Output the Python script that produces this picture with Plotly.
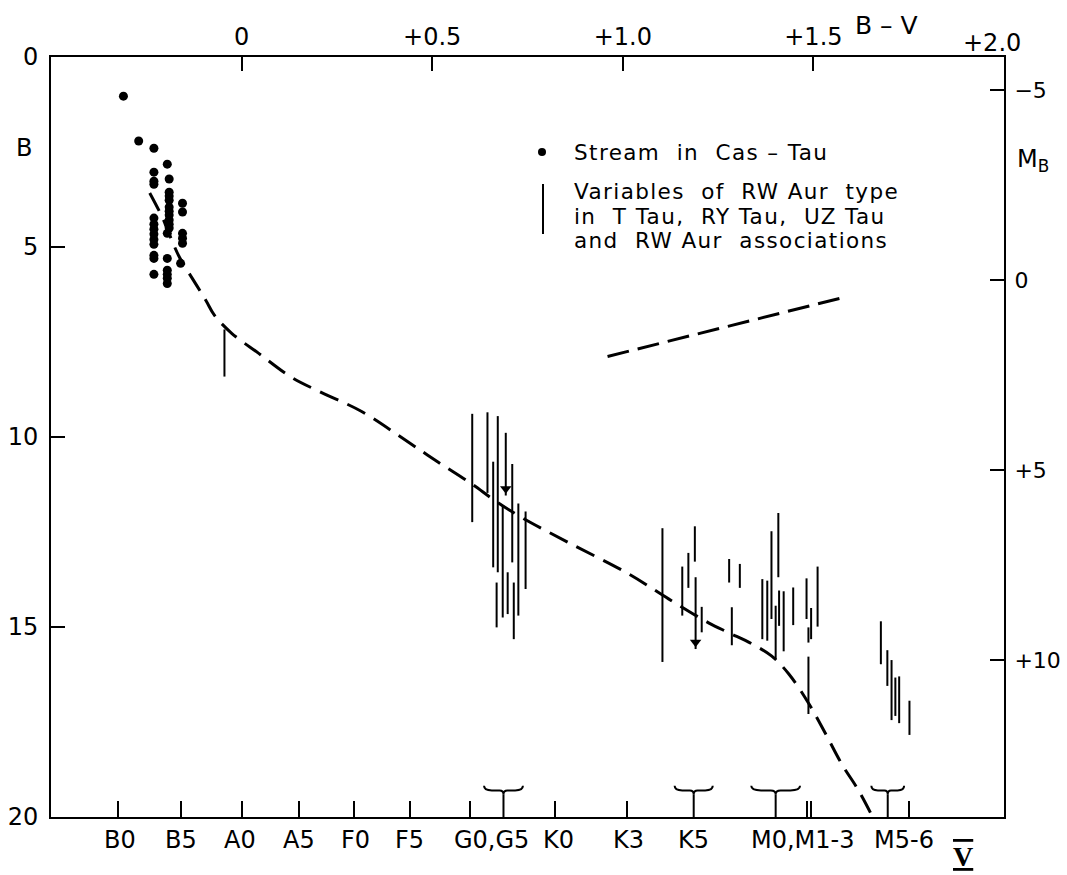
import plotly.graph_objects as go

# ---------------- data ----------------
DM = 5.87  # B - M_B offset (distance modulus)

# Stream in Cas-Tau (B-V, B)
stream_bv = [-0.31, -0.27, -0.23, -0.195, -0.23, -0.23, -0.23, -0.19, -0.19, -0.19,
             -0.19, -0.19, -0.19, -0.19, -0.19, -0.19, -0.19, -0.195, -0.155, -0.155,
             -0.155, -0.155, -0.155, -0.23, -0.23, -0.23, -0.23, -0.23, -0.23, -0.23,
             -0.23, -0.23, -0.195, -0.195, -0.195, -0.195, -0.195, -0.16]
stream_b = [1.03, 2.21, 2.40, 2.82, 3.03, 3.27, 3.35, 3.21, 3.56, 3.66,
            3.77, 3.95, 4.06, 4.16, 4.29, 4.40, 4.50, 4.64, 3.85, 4.08,
            4.64, 4.77, 4.90, 4.24, 4.40, 4.53, 4.66, 4.80, 4.93, 5.22,
            5.30, 5.72, 5.30, 5.61, 5.72, 5.82, 5.96, 5.43]

# Variables of RW Aur type (vertical ranges)
var_bv = [-0.045,
          0.605, 0.645, 0.672, 0.660, 0.710, 0.669, 0.685, 0.698, 0.714, 0.726, 0.745,
          1.104, 1.156, 1.172, 1.189, 1.207, 1.279, 1.307, 1.286, 1.366, 1.379, 1.390,
          1.408, 1.401, 1.410, 1.422, 1.447, 1.482, 1.494, 1.487, 1.511, 1.487,
          1.677, 1.694, 1.705, 1.715, 1.725, 1.752]
var_top = [7.17,
           9.39, 9.35, 9.45, 10.65, 10.71, 13.83, 11.80, 13.56, 13.83, 11.75, 11.96,
           12.40, 13.41, 13.05, 12.35, 14.47, 13.21, 13.34, 14.48, 13.74, 13.78, 12.48,
           12.00, 14.44, 14.04, 14.06, 13.96, 13.72, 14.50, 15.01, 13.41, 15.78,
           14.85, 15.61, 15.87, 16.33, 16.30, 16.94]
var_bot = [8.41,
           12.24, 11.47, 13.56, 13.43, 13.30, 15.01, 14.75, 14.66, 15.32, 14.70, 14.00,
           15.92, 14.70, 13.97, 13.28, 15.14, 13.83, 13.97, 15.48, 15.32, 15.36, 14.79,
           13.69, 15.84, 14.97, 15.64, 14.95, 14.79, 15.32, 15.41, 14.99, 17.29,
           15.98, 16.55, 17.45, 17.34, 17.53, 17.84]

# Variables with upper limits (arrows)
arrow_bv = [0.693, 1.191]
arrow_top = [9.89, 13.69]
arrow_tip = [11.54, 15.58]

# Main sequence (dashed)
zams_bv = [-0.241, -0.207, -0.194, -0.163, -0.131, -0.094, -0.071, -0.026, 0.045, 0.131,
           0.210, 0.315, 0.438, 0.517, 0.603, 0.664, 0.735, 0.858, 1.015, 1.120,
           1.225, 1.278, 1.338, 1.390, 1.435, 1.487, 1.532, 1.574, 1.619, 1.658]
zams_b = [3.58, 4.24, 4.56, 5.27, 5.80, 6.40, 6.80, 7.27, 7.80, 8.43,
          8.83, 9.33, 10.14, 10.67, 11.23, 11.67, 12.12, 12.78, 13.60, 14.26,
          14.89, 15.15, 15.44, 15.76, 16.23, 17.00, 17.81, 18.60, 19.31, 20.05]

# Giant branch segment (dashed)
giant_bv = [0.96, 1.27, 1.57]
giant_b = [7.88, 7.11, 6.35]

# Axes ticks
b_ticks = [0, 5, 10, 15, 20]
b_ticktext = ["0", "5", "10", "15", "20"]
bv_ticks = [0, 0.5, 1.0, 1.5]
bv_ticktext = ["0", "+0.5", "+1.0", "+1.5"]
mb_ticks = [-5, 0, 5, 10]
mb_ticktext = ["\u22125", "0", "+5", "+10"]

# Spectral types along bottom axis
sp_tick_bv = [-0.323, -0.16, 0.0, 0.15, 0.294, 0.441, 0.598, 0.821, 1.01, 1.482, 1.495, 1.752]
sp_brace_bv = [0.687, 1.186, 1.401, 1.695]
sp_brace_half = [0.051, 0.050, 0.064, 0.043]
sp_label_bv = [-0.318, -0.16, -0.003, 0.150, 0.299, 0.441, 0.656, 0.832, 1.015, 1.186, 1.474, 1.737]
sp_labels = ["B0", "B5", "A0", "A5", "F0", "F5", "G0,G5", "K0", "K3", "K5", "M0,M1-3", "M5-6"]

legend_lines = ["Stream  in  Cas \u2013 Tau",
                "Variables  of  RW Aur  type",
                "in  T Tau,  RY Tau,  UZ Tau",
                "and  RW Aur  associations"]

# ---------------- figure ----------------
FONT = "DejaVu Sans"
L, R, T, Bm = 51, 63, 57, 58
W, H = 1067, 875
PW, PH = W - L - R, H - T - Bm


def px_x(px):
    return (px - L) / PW


def px_y(py):
    return 1 - (py - T) / PH


fig = go.Figure()

# variable bars
bx, by = [], []
for x, t, b in zip(var_bv, var_top, var_bot):
    bx += [x, x, None]
    by += [t, b, None]
for x, t, b in zip(arrow_bv, arrow_top, arrow_tip):
    bx += [x, x, None]
    by += [t, b, None]
fig.add_trace(go.Scatter(x=bx, y=by, mode="lines",
                         line=dict(color="black", width=2), hoverinfo="skip"))
fig.add_trace(go.Scatter(x=arrow_bv, y=[t - 0.18 for t in arrow_tip], mode="markers",
                         marker=dict(symbol="triangle-down", size=10, color="black"),
                         hoverinfo="skip"))

# dashed curves
fig.add_trace(go.Scatter(x=zams_bv, y=zams_b, mode="lines",
                         line=dict(color="black", width=3, dash="20px,10px", shape="spline"),
                         hoverinfo="skip"))
fig.add_trace(go.Scatter(x=giant_bv, y=giant_b, mode="lines",
                         line=dict(color="black", width=3, dash="22px,9px"),
                         hoverinfo="skip"))

# stream dots
fig.add_trace(go.Scatter(x=stream_bv, y=stream_b, mode="markers",
                         marker=dict(size=9, color="black"), hoverinfo="skip"))

# dummy on secondary axes so they render
fig.add_trace(go.Scatter(x=[None], y=[None], xaxis="x2", yaxis="y2", hoverinfo="skip"))

shapes = []
# braces on bottom axis
for c, w in zip(sp_brace_bv, sp_brace_half):
    yt, yh, yj = 19.18, 19.30, 19.40
    path = (f"M {c-w},{yt} Q {c-w},{yh} {c-0.6*w},{yh} L {c-0.2*w},{yh} "
            f"Q {c},{yh} {c},{yj} Q {c},{yh} {c+0.2*w},{yh} L {c+0.6*w},{yh} "
            f"Q {c+w},{yh} {c+w},{yt}")
    shapes.append(dict(type="path", path=path, xref="x", yref="y",
                       line=dict(color="black", width=2)))
    shapes.append(dict(type="line", x0=c, x1=c, y0=yj, y1=20, xref="x", yref="y",
                       line=dict(color="black", width=2)))

# legend symbols
shapes.append(dict(type="circle", xref="paper", yref="paper",
                   x0=px_x(538), x1=px_x(546), y0=px_y(156), y1=px_y(148),
                   fillcolor="black", line=dict(color="black", width=0)))
shapes.append(dict(type="line", xref="paper", yref="paper",
                   x0=px_x(543), x1=px_x(543), y0=px_y(184), y1=px_y(234),
                   line=dict(color="black", width=2)))

annotations = []
leg_y = [152, 191, 216, 241]
for txt, yy in zip(legend_lines, leg_y):
    annotations.append(dict(text=f'<span style="letter-spacing:1.4px">{txt}</span>',
                            x=px_x(572), y=px_y(yy), xref="paper", yref="paper",
                            xanchor="left", yanchor="middle", showarrow=False,
                            font=dict(family=FONT, size=21.5, color="black")))

for txt, xv in zip(sp_labels, sp_label_bv):
    annotations.append(dict(text=txt, x=xv, y=px_y(840), xref="x", yref="paper",
                            xanchor="center", yanchor="middle", showarrow=False,
                            font=dict(family=FONT, size=24, color="black")))


def label(text, px, py, size=24, family=FONT, xanchor="center"):
    return dict(text=text, x=px_x(px), y=px_y(py), xref="paper", yref="paper",
                xanchor=xanchor, yanchor="middle", showarrow=False,
                font=dict(family=family, size=size, color="black"))


annotations += [
    label('<b><span style="text-decoration:underline overline">V</span></b>', 963, 856,
          size=28, family="Liberation Serif"),
    label("B \u2013 V", 886, 25, size=25),
    label("+2.0", 992, 43),
    label("B", 24, 148),
    label("M<sub>B</sub>", 1015, 160, xanchor="left"),
]

axis_common = dict(showgrid=False, zeroline=False, showline=True, linecolor="black",
                   linewidth=2, ticks="inside", tickcolor="black", tickwidth=2,
                   automargin=False)
tf = dict(family=FONT, size=24, color="black")

fig.update_layout(
    width=W, height=H,
    margin=dict(l=L, r=R, t=T, b=Bm, autoexpand=False),
    paper_bgcolor="white", plot_bgcolor="white",
    showlegend=False,
    xaxis=dict(range=[-0.5, 2.0], tickvals=sp_tick_bv, showticklabels=False,
               ticklen=16, tickfont=tf, **axis_common),
    xaxis2=dict(range=[-0.5, 2.0], overlaying="x", side="top", tickvals=bv_ticks,
                ticktext=bv_ticktext, ticklen=14, ticklabelstandoff=0, tickfont=tf,
                **axis_common),
    yaxis=dict(range=[20, 0], tickvals=b_ticks, ticktext=b_ticktext, ticklen=14,
               ticklabelstandoff=6, tickfont=tf, **axis_common),
    yaxis2=dict(range=[20 - DM, -DM], overlaying="y", side="right", tickvals=mb_ticks,
                ticktext=mb_ticktext, ticklen=14, ticklabelstandoff=4,
                tickfont=dict(family=FONT, size=22, color="black"), **axis_common),
    shapes=shapes,
    annotations=annotations,
)

fig.write_html("out.html")
